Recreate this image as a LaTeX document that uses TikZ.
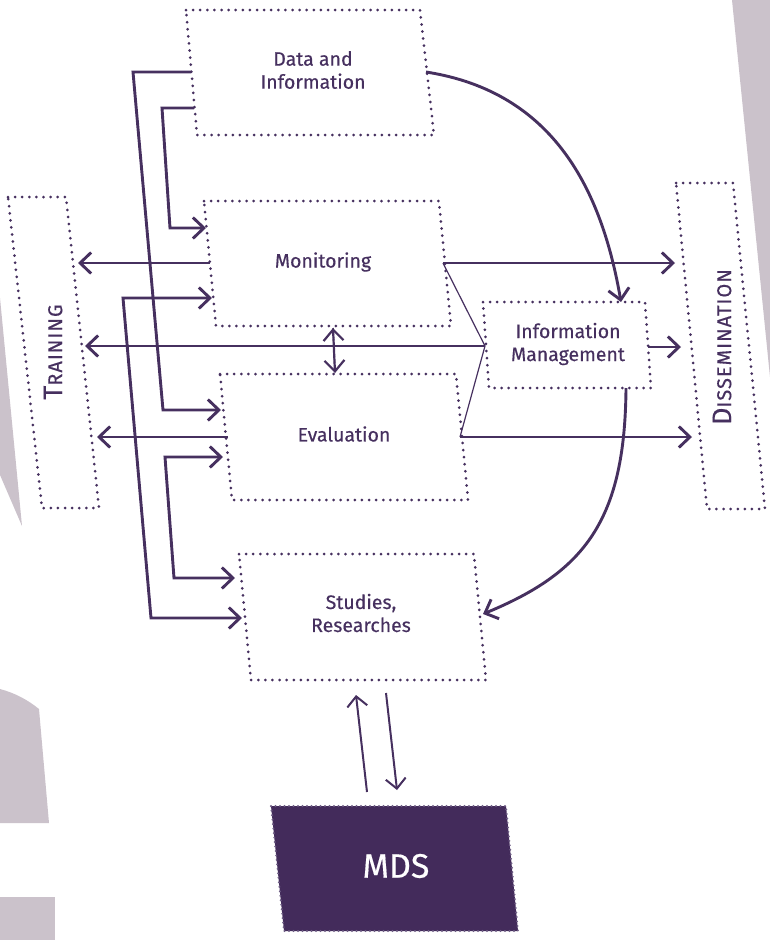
\documentclass[tikz,border=0pt]{standalone}
\usepackage{fontspec}
\setmainfont{Fira Sans}[FakeBold=0.4]
\usetikzlibrary{arrows.meta}
\definecolor{ink}{HTML}{46305F}
\definecolor{mdsfill}{HTML}{432B5B}
\definecolor{mdsdot}{HTML}{6E5D84}
\definecolor{bg}{HTML}{CBC2CB}
\begin{document}
\begin{tikzpicture}[x=1pt,y=-1pt,
  dotbox/.style={draw=ink, line width=3pt, line cap=round, dash pattern=on 0pt off 7.1pt},
  boxtext/.style={text=ink, font=\fontsize{19.5}{23}\selectfont, align=center, inner sep=0pt},
  sidetext/.style={text=ink, rotate=90, inner sep=0pt},
  conn/.style={draw=ink, line width=2.9pt, line join=miter, -{Straight Barb[length=11pt,width=21pt]}},
  conn2/.style={draw=ink, line width=2.9pt, line join=miter, {Straight Barb[length=11pt,width=21pt]}-{Straight Barb[length=11pt,width=21pt]}},
  thinline/.style={draw=ink, line width=1.2pt},
  mdsarrow/.style={draw=ink, line width=2pt, -{Straight Barb[length=10pt,width=20pt]}},
]
\useasboundingbox (0,0) rectangle (770,940);
% background shapes
\fill[bg] (732,0) -- (770,0) -- (770,377) -- cycle;
\fill[bg] (0,298) -- (22,526) -- (0,475) -- cycle;
\fill[bg] (0,689) .. controls (15,693) and (28,700) .. (39,709) -- (49,823) -- (0,823) -- cycle;
\fill[bg] (0,897) rectangle (55,940);

% boxes
\draw[dotbox] (186,10) -- (420,10) -- (434,135) -- (197,135) -- cycle;
\node[boxtext] (data) at (313,70) {Data and\\Information};
\draw[dotbox] (204,201) -- (439,201) -- (451,326) -- (216,326) -- cycle;
\node[boxtext] (mon) at (323,262) {Monitoring};
\draw[dotbox] (220,374) -- (456,374) -- (468,500) -- (232,500) -- cycle;
\node[boxtext] (eval) at (344,434) {Evaluation};
\draw[dotbox] (239,554) -- (474,554) -- (486,680) -- (251,680) -- cycle;
\node[boxtext] (stud) at (361,613) {Studies,\\Researches};
\draw[dotbox] (483,302) -- (645,302) -- (651,388) -- (489,388) -- cycle;
\node[boxtext] (im) at (568,344) {Information\\Management};
\draw[dotbox] (8,197) -- (66,197) -- (99,508) -- (42,508) -- cycle;
\node[sidetext] (train) at (53,352) {\fontsize{27}{27}\selectfont T\fontsize{20}{20}\selectfont\addfontfeature{LetterSpace=5}RAINING};
\draw[dotbox] (676,183) -- (733,183) -- (765,509) -- (707,509) -- cycle;
\node[sidetext] (diss) at (722,347) {\fontsize{27}{27}\selectfont D\fontsize{20}{20}\selectfont\addfontfeature{LetterSpace=5}ISSEMINATION};
% MDS
\fill[mdsfill] (271,806) -- (506,806) -- (518,931) -- (284,931) -- cycle;
\draw[draw=mdsdot, line width=2.2pt, line cap=round, dash pattern=on 0pt off 4.5pt] (271,806) -- (506,806) -- (518,931) -- (284,931) -- cycle;
\node[text=white, font=\fontsize{34}{34}\selectfont, inner sep=0pt] (mds) at (396,866) {MDS};

% attachment points
\coordinate (dA) at (191,72);
\coordinate (dB) at (194,108);
\coordinate (dR) at (426,72);
\coordinate (mL1) at (206,228);
\coordinate (mL2) at (210,263);
\coordinate (mL3) at (212,298);
\coordinate (mR) at (443,263);
\coordinate (mB) at (333,328);
\coordinate (eL1) at (221,410);
\coordinate (eL2) at (223,457);
\coordinate (eL3) at (228,437);
\coordinate (eR) at (460,437);
\coordinate (eT) at (335,373);
\coordinate (sL1) at (235,578);
\coordinate (sL2) at (242,618);
\coordinate (sR) at (483,614);
\coordinate (sB1) at (356,695);
\coordinate (sB2) at (386,693);
\coordinate (iL) at (485,346);
\coordinate (iR) at (648,347);
\coordinate (iT) at (621,302);
\coordinate (iB) at (626,388);
\coordinate (tR1) at (78,263);
\coordinate (tR2) at (85,346);
\coordinate (tR3) at (97,437);
\coordinate (dsL1) at (675,263);
\coordinate (dsL2) at (681,347);
\coordinate (dsL3) at (692,437);
\coordinate (mT1) at (367,792);
\coordinate (mT2) at (397,790);

% connectors on the left
\draw[conn] (dA) -- (133,72) -- (163,410) -- (eL1);
\draw[conn] (dB) -- (162,108) -- (170,228) -- (mL1);
\draw[conn2] (sL2) -- (151,618) -- (123,298) -- (mL3);
\draw[conn2] (sL1) -- (174,578) -- (165,457) -- (eL2);

% to training
\draw[conn] (mL2) -- (tR1);
\draw[conn] (iL) -- (tR2);
\draw[conn] (eL3) -- (tR3);
% to dissemination
\draw[conn] (mR) -- (dsL1);
\draw[conn] (iR) -- (dsL2);
\draw[conn] (eR) -- (dsL3);
% thin links
\draw[thinline] (mR) -- (iL) -- (eR);
% monitoring <-> evaluation
\draw[draw=ink, line width=1.5pt, dash pattern=on 1.2pt off 1.6pt] (mB) -- (eT);
\draw[draw=ink, line width=2.2pt, {Straight Barb[length=11pt,width=20pt]}-{Straight Barb[length=11pt,width=20pt]}, draw opacity=1] (mB) -- (eT);
% curves
\draw[conn] (dR) .. controls (555,92) and (602,192) .. (iT);
\draw[conn] (iB) .. controls (625,520) and (585,572) .. (sR);
% MDS arrows
\draw[mdsarrow] (mT1) -- (sB1);
\draw[mdsarrow] (sB2) -- (mT2);
\end{tikzpicture}
\end{document}
